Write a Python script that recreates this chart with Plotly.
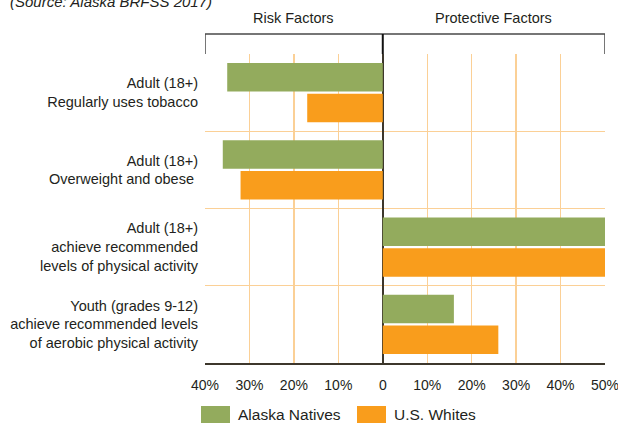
import plotly.graph_objects as go

categories = [
    "Adult (18+)<br>Regularly uses tobacco",
    "Adult (18+)<br>Overweight and obese ",
    "Adult (18+)<br>achieve recommended<br>levels of physical activity",
    "Youth (grades 9-12)<br>achieve recommended levels<br>of aerobic physical activity",
]
# negative = risk factors (left side), positive = protective factors (right side)
alaska_natives = [-35, -36, 50, 16]
us_whites = [-17, -32, 50, 26]

series_names = ["Alaska Natives", "U.S. Whites"]
series_colors = ["#93ab5d", "#f99d1c"]

tick_vals = [-40, -30, -20, -10, 0, 10, 20, 30, 40, 50]
tick_text = ["40%", "30%", "20%", "10%", "0", "10%", "20%", "30%", "40%", "50%"]

panel_titles = ["Risk Factors", "Protective Factors"]
panel_centers = [-20, 25]
source_text = "(Source: Alaska BRFSS 2017)"

FONT = "Liberation Sans, Arial, sans-serif"
TXT = "#231f20"
GRID = "#fbd096"

fig = go.Figure()
for name, vals, col in zip(series_names, [alaska_natives, us_whites], series_colors):
    fig.add_trace(go.Bar(
        y=categories, x=vals, name=name, orientation="h",
        marker=dict(color=col, line=dict(width=0)),
        showlegend=False, hoverinfo="skip",
    ))

fig.update_layout(
    width=618, height=425,
    margin=dict(l=205, r=13, t=54, b=62, autoexpand=False),
    paper_bgcolor="white", plot_bgcolor="white",
    barmode="group", bargap=0.2, bargroupgap=0.08,
    font=dict(family=FONT, color=TXT, size=15),
)
fig.update_xaxes(
    range=[-40, 50], tickvals=tick_vals, ticktext=tick_text,
    showgrid=True, gridcolor=GRID, gridwidth=1.3,
    zeroline=True, zerolinecolor="#3d372c", zerolinewidth=2,
    showline=True, linecolor="#3d372c", linewidth=2,
    ticks="", ticklabelstandoff=8, ticklabeloverflow="allow",
    tickfont=dict(size=14, family=FONT, color=TXT),
    automargin=False, fixedrange=True,
)
fig.update_yaxes(
    autorange="reversed", tickson="boundaries",
    showgrid=True, gridcolor=GRID, gridwidth=1.3,
    showline=False, ticks="", ticklabelstandoff=6,
    tickfont=dict(size=14.5, family=FONT, color=TXT),
    automargin=False, fixedrange=True,
)

# header box above plot
hb = 20 / 309
fig.add_shape(type="path", xref="x", yref="paper",
              path=f"M -40,1 L -40,{1+hb} L 50,{1+hb} L 50,1",
              line=dict(color="#4a4a4a", width=1.5))
fig.add_shape(type="line", xref="x", yref="paper", x0=0, x1=0, y0=1, y1=1 + hb,
              line=dict(color="#111111", width=2))
for t, cx in zip(panel_titles, panel_centers):
    fig.add_annotation(text=t, x=cx, y=(363 - 18) / 309, xref="x", yref="paper",
                       showarrow=False, xanchor="center", yanchor="middle",
                       font=dict(size=14.5, family=FONT, color=TXT))

fig.add_annotation(text=f"<i>{source_text}</i>", x=(8 - 205) / 400, y=(363 - 1.5) / 309,
                   xref="paper", yref="paper", showarrow=False,
                   xanchor="left", yanchor="middle",
                   font=dict(size=15, family=FONT, color=TXT))

# legend
leg_x = [(201 - 205) / 400, (357 - 205) / 400]
for name, col, lx in zip(series_names, series_colors, leg_x):
    fig.add_shape(type="rect", xref="paper", yref="paper",
                  x0=lx, x1=lx + 29 / 400, y0=(363 - 423) / 309, y1=(363 - 406) / 309,
                  fillcolor=col, line=dict(width=0))
    fig.add_annotation(text=name, x=lx + 35 / 400, y=(363 - 414.5) / 309,
                       xref="paper", yref="paper", showarrow=False,
                       xanchor="left", yanchor="middle",
                       font=dict(size=15.5, family=FONT, color=TXT))

fig.write_html("out.html",
               config={"displayModeBar": False, "staticPlot": True},
               post_script="document.body.style.margin='0';document.body.style.overflow='hidden';")
